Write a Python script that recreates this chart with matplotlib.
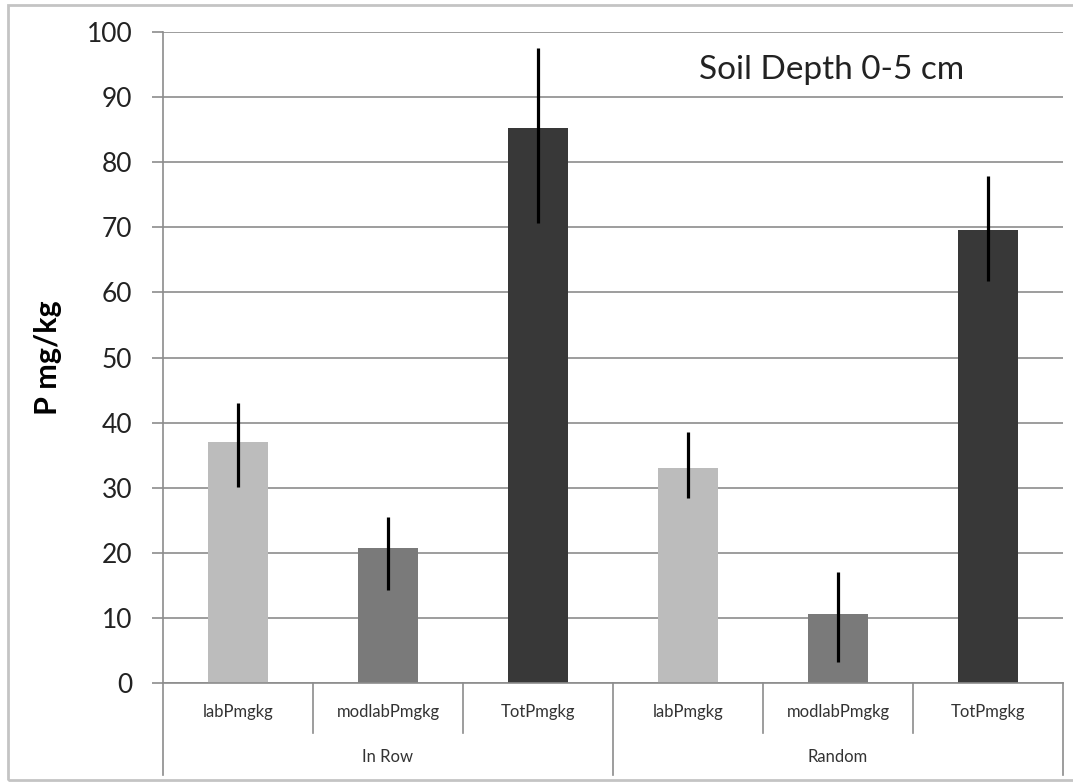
import matplotlib.pyplot as plt
from matplotlib.patches import Rectangle
import numpy as np

plt.rcParams['font.family'] = ['Lato', 'DejaVu Sans']

# Data
groups = ['In Row', 'Random']
categories = ['labPmgkg', 'modlabPmgkg', 'TotPmgkg', 'labPmgkg', 'modlabPmgkg', 'TotPmgkg']
values = [37.0, 20.7, 85.2, 33.1, 10.6, 69.6]
err_low = [6.9, 6.4, 14.6, 4.7, 7.3, 7.8]
err_high = [6.0, 4.8, 12.4, 5.4, 6.5, 8.3]
bar_colors = ['#bcbcbc', '#7a7a7a', '#383838', '#bcbcbc', '#7a7a7a', '#383838']

fig = plt.figure(figsize=(10.73, 7.83), dpi=100)
ax = fig.add_axes([163/1073, 1-683/783, 900/1073, 651/783])

x = np.arange(len(values))
ax.bar(x, values, width=0.4, color=bar_colors, zorder=2)
ax.errorbar(x, values, yerr=[err_low, err_high], fmt='none', ecolor='black',
            elinewidth=2.3, capsize=0, zorder=3)

ax.set_xlim(-0.5, 5.5)
ax.set_ylim(0, 100)
ax.set_yticks(np.arange(0, 101, 10))
ax.grid(axis='y', color='#8c8c8c', linewidth=1.2, zorder=0)
ax.tick_params(axis='y', labelsize=19, length=8, width=1.2, color='#8c8c8c',
               pad=14, labelcolor='#222222')
ax.tick_params(axis='x', length=0, labelbottom=False)

for s in ['top', 'right']:
    ax.spines[s].set_visible(False)
ax.spines['bottom'].set_color('#8c8c8c')
ax.spines['bottom'].set_linewidth(1.2)
ax.spines['left'].set_visible(False)

# two-level category axis drawn below the plot
tr = ax.get_xaxis_transform()
for xs in [-0.5, 2.5, 5.5]:
    ax.plot([xs, xs], [1.0 if xs == -0.5 else 0, -0.1413], transform=tr,
            color='#8c8c8c', linewidth=1.2, clip_on=False)
for xs in [0.5, 1.5, 3.5, 4.5]:
    ax.plot([xs, xs], [0, -0.0768], transform=tr, color='#8c8c8c',
            linewidth=1.2, clip_on=False)
for xi, name in zip(x, categories):
    ax.text(xi, -0.045, name, transform=tr, ha='center', va='center',
            fontsize=12, color='#333333')
for gi, name in enumerate(groups):
    ax.text(gi * 3 + 1, -0.113, name, transform=tr, ha='center', va='center',
            fontsize=12, color='#333333')

ax.set_ylabel('P mg/kg', fontsize=22, fontweight='bold')
ax.yaxis.set_label_coords(-0.112, 0.5)
ax.text(3.96, 94.2, 'Soil Depth 0-5 cm', ha='center', va='center',
        fontsize=24, color='#222222')

# outer chart frame
fig.patches.append(Rectangle((8/1073, 1-780/783), 1.1, 775/783,
                             transform=fig.transFigure, fill=False,
                             edgecolor='#c4c4c4', linewidth=2))

plt.savefig('out.png', dpi=100)
